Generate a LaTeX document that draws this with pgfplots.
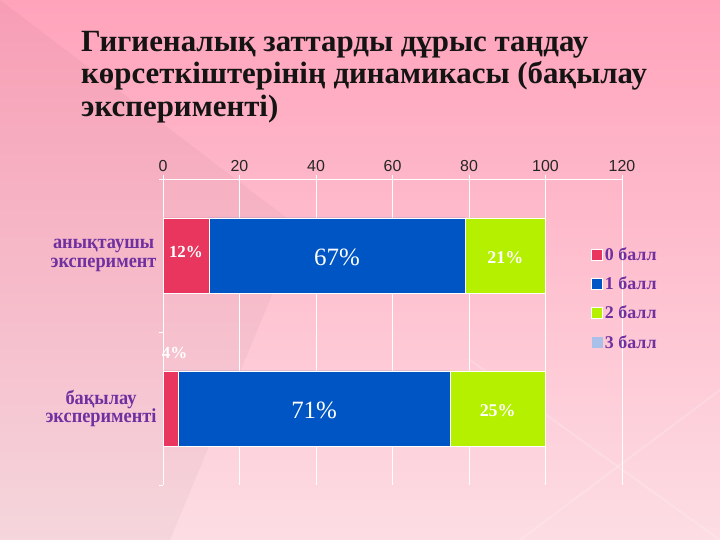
\documentclass[border=0pt]{standalone}
\usepackage{fontspec}
\usepackage{pgfplots}
\usepackage{pgfplotstable}
\pgfplotsset{compat=1.18}
\setmainfont{Liberation Serif}
\newfontfamily\catfont{Liberation Serif}[FakeStretch=0.92]
\newfontfamily\tickfont{Liberation Sans}

\definecolor{bgtop}{HTML}{FFA3BB}
\definecolor{bgbot}{HTML}{FDDDE4}
\definecolor{ball0}{HTML}{E8365E}
\definecolor{ball1}{HTML}{0055C4}
\definecolor{ball2}{HTML}{B4F000}
\definecolor{ball3}{HTML}{A9C0E8}
\definecolor{purp}{HTML}{7030A0}

% rows: 0 = бақылау эксперименті, 1 = анықтаушы эксперимент
\pgfplotstableread{
cat b0 b1 b2
0   4  71 25
1   12 67 21
}\scores

\begin{document}
\begin{tikzpicture}
% slide background
\shade[top color=bgtop, bottom color=bgbot] (0,0) rectangle (720bp,540bp);
\fill[black, opacity=0.03] (0bp,540bp) -- (300bp,312bp) -- (170bp,0bp) -- (0bp,0bp) -- cycle;
\draw[white, opacity=0.18, line width=2pt] (470bp,180bp) -- (720bp,0bp);
\draw[white, opacity=0.18, line width=2pt] (520bp,0bp) -- (720bp,150bp);

\node[anchor=north west, inner sep=0pt, align=left, text=black!92,
      font=\bfseries\fontsize{31}{32.5}\selectfont] at (81bp,509bp)
  {Гигиеналық заттарды дұрыс таңдау\\
   көрсеткіштерінің динамикасы (бақылау\\
   эксперименті)};

\begin{axis}[
    at={(163bp,55bp)}, anchor=south west,
    width=459bp, height=306bp, scale only axis,
    xbar stacked,
    bar width=75bp,
    xmin=0, xmax=120,
    ymin=-0.5, ymax=1.5,
    clip=false,
    axis x line*=top,
    axis y line*=left,
    axis line style={white, line width=0.9pt},
    xtick={0,20,...,120},
    xmajorgrids,
    grid style={white, line width=0.9pt},
    tick align=outside,
    tick style={white, line width=0.9pt},
    major tick length=4bp,
    /pgf/number format/assume math mode=true,
    x tick label style={font=\tickfont\fontsize{16}{16}\selectfont, text=black!85},
    ytick={-0.5,0.5,1.5},
    yticklabels={},
    extra y ticks={0,1},
    extra y tick labels={бақылау\\эксперименті, анықтаушы\\эксперимент},
    extra y tick style={major tick length=0pt},
    y tick label style={font=\catfont\bfseries\fontsize{20}{19}\selectfont,
                        text=purp, align=center, xshift=-3bp},
    point meta=explicit,
    nodes near coords={\pgfmathprintnumber{\pgfplotspointmeta}\%},
    every node near coord/.append style={anchor=center, text=white},
    legend image code/.code={\fill[#1] (0bp,-5.5bp) rectangle (11bp,5.5bp);},
    legend style={at={(0.926,0.79)}, anchor=north west, draw=none, fill=none,
                  font=\bfseries\fontsize{18}{18}\selectfont, text=purp,
                  row sep=11bp,
                  /tikz/every even column/.append style={column sep=2bp}},
    legend cell align=left,
]
\addplot[fill=ball0, draw=white, line width=0.7pt,
         visualization depends on={\thisrow{b0} \as \segw},
         every node near coord/.append style={
            font=\bfseries\fontsize{17}{17}\selectfont,
            yshift={\segw<5 ? 56 : 4}, xshift={\segw<5 ? 4 : 0}}]
    table[x=b0, y=cat, meta=b0] {\scores};
\addlegendentry{0 балл}
\addplot[fill=ball1, draw=white, line width=0.7pt,
         every node near coord/.append style={
            font=\fontsize{25}{25}\selectfont, yshift=-2bp}]
    table[x=b1, y=cat, meta=b1] {\scores};
\addlegendentry{1 балл}
\addplot[fill=ball2, draw=white, line width=0.7pt,
         every node near coord/.append style={
            font=\bfseries\fontsize{18}{18}\selectfont, yshift=-2bp}]
    table[x=b2, y=cat, meta=b2] {\scores};
\addlegendentry{2 балл}
\addlegendimage{fill=ball3, draw=none}
\addlegendentry{3 балл}
\end{axis}
\pgfresetboundingbox
\useasboundingbox (0,0) rectangle (720bp,540bp);
\end{tikzpicture}
\end{document}
